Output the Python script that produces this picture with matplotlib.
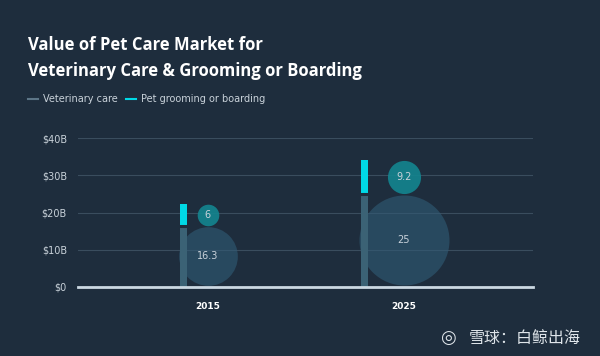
import matplotlib.pyplot as plt

# Dados
anos = ['2015', '2025']
veterinaria = [16.3, 25]
banho_tosa = [6, 9.2]
rotulos_y = ['$0', '$10B', '$20B', '$30B', '$40B']
valores_y = [0, 10, 20, 30, 40]

# Cores
fundo = '#1e2d3d'
cor_vet = '#3b6275'
cor_banho = '#00d9e6'
cor_bolha_vet = '#305c76'
cor_bolha_banho = '#138590'
cor_texto = '#c9d2da'

fig = plt.figure(figsize=(6, 3.56), dpi=100, facecolor=fundo)
ax = fig.add_axes([78 / 600, 1 - 286.7 / 356, 455 / 600, (286.7 - 138.3) / 356])
ax.set_facecolor(fundo)

px_x = 196.3       # pixels por unidade de categoria
px_raio = 1.8      # raio da bolha (px) por bilhão
largura = 7 / px_x
ax.set_xlim(-129.7 / px_x, 325.3 / px_x)
ax.set_ylim(0, 40)

for i, ano in enumerate(anos):
    raio_vet = px_raio * veterinaria[i]
    raio_banho = px_raio * banho_tosa[i]
    xb = i - (raio_vet - 5) / px_x
    ax.bar(xb, veterinaria[i], width=largura, color=cor_vet, zorder=3)
    ax.bar(xb, banho_tosa[i], width=largura, bottom=veterinaria[i], color=cor_banho,
           linewidth=0, zorder=3)
    # pequeno espaço entre os segmentos
    ax.plot([xb - largura, xb + largura], [veterinaria[i], veterinaria[i]], color=fundo,
            lw=2.2, solid_capstyle='butt', zorder=3.5)
    # bolhas (raio em pixels convertido para pontos)
    ax.scatter(i, veterinaria[i] / 2, s=(2 * raio_vet * 0.72) ** 2, color=cor_bolha_vet,
               alpha=0.6, linewidths=0, zorder=2)
    ax.scatter(i, veterinaria[i] + banho_tosa[i] / 2, s=(2 * raio_banho * 0.72) ** 2,
               color=cor_bolha_banho, alpha=0.9, linewidths=0, zorder=2)
    ax.text(i, veterinaria[i] / 2, f'{veterinaria[i]:g}', ha='center', va='center',
            color=cor_texto, fontsize=7, zorder=4)
    ax.text(i, veterinaria[i] + banho_tosa[i] / 2, f'{banho_tosa[i]:g}', ha='center',
            va='center', color=cor_texto, fontsize=7, zorder=4)

ax.set_yticks(valores_y)
ax.set_yticklabels(rotulos_y, color=cor_texto, fontsize=7)
ax.set_xticks(range(len(anos)))
ax.set_xticklabels(anos, color='white', fontsize=6.5, fontweight='bold')
ax.tick_params(axis='both', length=0)
ax.tick_params(axis='x', pad=11)
ax.tick_params(axis='y', pad=8)
ax.grid(axis='y', color='#3a4d5e', linewidth=0.8, zorder=0)
for lado in ['top', 'right', 'left']:
    ax.spines[lado].set_visible(False)
ax.spines['bottom'].set_color('#cbd8e2')
ax.spines['bottom'].set_linewidth(2)
ax.spines['bottom'].set_zorder(5)

# Titulo
fig.text(28 / 600, 1 - 50 / 356, 'Value of Pet Care Market for', color='white',
         fontsize=12, fontweight='bold', family='Open Sans')
fig.text(28 / 600, 1 - 76 / 356, 'Veterinary Care & Grooming or Boarding', color='white',
         fontsize=12, fontweight='bold', family='Open Sans')

# Legenda
fig.add_artist(plt.Line2D([28 / 600, 38 / 600], [1 - 99 / 356] * 2, color='#5c7587', lw=1.5))
fig.text(43 / 600, 1 - 99 / 356, 'Veterinary care', color=cor_texto, fontsize=7, va='center')
fig.add_artist(plt.Line2D([126 / 600, 136 / 600], [1 - 99 / 356] * 2, color=cor_banho, lw=1.5))
fig.text(141 / 600, 1 - 99 / 356, 'Pet grooming or boarding', color=cor_texto, fontsize=7,
         va='center')

# Marca d'agua
fig.text(581 / 600, 1 - 338 / 356, '雪球：白鲸出海', color='#dfe5ea', fontsize=11.5,
         ha='right', va='center', family=['Noto Sans CJK SC', 'DejaVu Sans'])
fig.text(448 / 600, 1 - 338 / 356, '◎', color='#dfe5ea', fontsize=13, ha='center',
         va='center', family=['DejaVu Sans'])

plt.savefig('out.png', dpi=100, facecolor=fundo)
